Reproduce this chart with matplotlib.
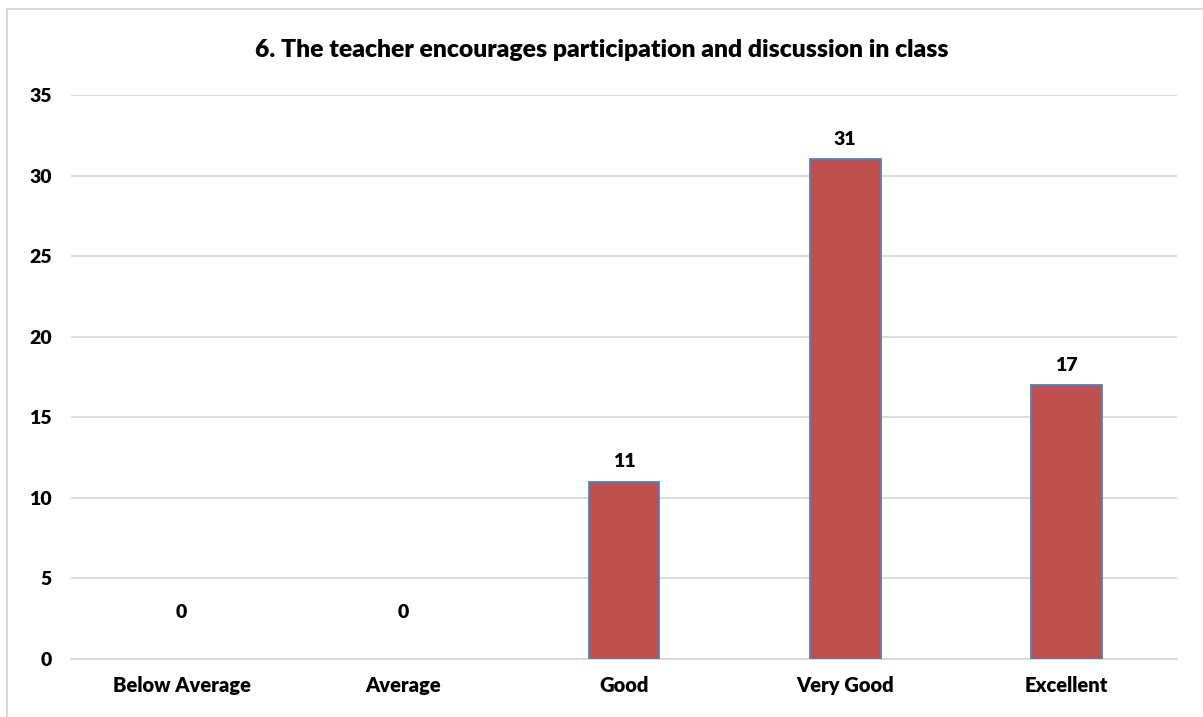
import matplotlib.pyplot as plt
from matplotlib.patches import Rectangle

categories = ["Below Average", "Average", "Good", "Very Good", "Excellent"]
counts = [0, 0, 11, 31, 17]
yticks = [0, 5, 10, 15, 20, 25, 30, 35]
title = "6. The teacher encourages participation and discussion in class"

plt.rcParams['font.family'] = ['Lato', 'DejaVu Sans']

fig = plt.figure(figsize=(12.03, 7.17), dpi=100)
ax = fig.add_axes([71/1203, 1-659/717, 1106/1203, (659-95)/717])

x = list(range(len(categories)))
edges = ["#4F81BD" if c > 0 else "none" for c in counts]
ax.bar(x, counts, width=0.32, color="#C0504D", edgecolor=edges, linewidth=1.3, zorder=3)
for xi, c in zip(x, counts):
    off = 20 if c > 0 else 47
    ax.annotate(str(c), (xi, c), xytext=(0, off), textcoords="offset pixels",
                ha="center", va="center", fontsize=14, fontweight="heavy")

ax.set_xlim(-0.5, len(categories) - 0.5)
ax.set_ylim(0, 35)
ax.set_yticks(yticks)
ax.set_xticks(x)
ax.set_xticklabels(categories, fontsize=14.5, fontweight="heavy")
ax.set_yticklabels([str(t) for t in yticks], fontsize=14, fontweight="heavy")
ax.tick_params(axis="y", length=0, pad=14)
ax.tick_params(axis="x", length=0, pad=12)
ax.grid(axis="y", color="#D9D9D9", linewidth=1.3, zorder=0)
for s in ["top", "right", "left"]:
    ax.spines[s].set_visible(False)
ax.spines["bottom"].set_color("#D9D9D9")
ax.spines["bottom"].set_linewidth(1.3)

fig.text(0.5, 1 - 57/717, title, ha="center", va="baseline", fontsize=17.8, fontweight="heavy")

# chart border (only top and left edges are inside the crop)
fig.patches.append(Rectangle((7/1203, -0.1), 1.2, 1 - 9/717 + 0.1, transform=fig.transFigure,
                             fill=False, edgecolor="#D9D9D9", linewidth=1.5))

fig.savefig("out.png", dpi=100)
